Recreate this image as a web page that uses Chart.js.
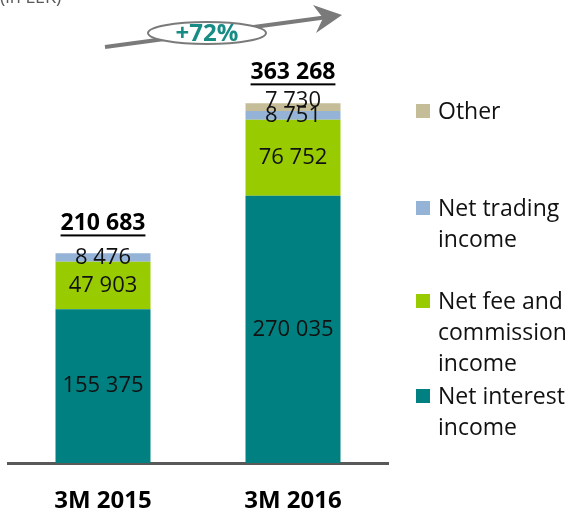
<!DOCTYPE html>
<html>
<head>
<meta charset="utf-8">
<script src="https://cdn.jsdelivr.net/npm/chart.js@4.4.1/dist/chart.umd.min.js"></script>
<style>
  body { margin: 0; background: #fff; }
  canvas { display: block; }
</style>
</head>
<body>
<canvas id="incomeChart" width="569" height="514"></canvas>
<script>
const categories = ["3M 2015", "3M 2016"];
const seriesNames = ["Net interest income", "Net fee and commission income", "Net trading income", "Other"];
const netInterest = [155375, 270035];
const netFee = [47903, 76752];
const netTrading = [8476, 8751];
const other = [null, 7730];
const totals = [210683, 363268];
const unitNote = "(in LEK)";

const colors = ["#008080", "#99cc00", "#95b3d7", "#c4bd97"];
const FONT = "'Open Sans', sans-serif";

function fmt(n) {
  return String(n).replace(/\B(?=(\d{3})+(?!\d))/g, " ");
}

function wrap(ctx, text, maxW) {
  const words = text.split(" ");
  let lines = [], cur = "";
  words.forEach(w => {
    const test = cur ? cur + " " + w : w;
    if (ctx.measureText(test).width > maxW && cur) {
      lines.push(cur);
      cur = w;
    } else {
      cur = test;
    }
  });
  lines.push(cur);
  return lines;
}

// labels inside the bars, totals, category names, legend, growth arrow
const extras = {
  id: "extras",
  afterDatasetsDraw(chart) {
    const ctx = chart.ctx;
    const y = chart.scales.y;
    const xs = chart.scales.x;
    ctx.save();

    // value labels
    ctx.font = "22px " + FONT;
    ctx.fillStyle = "#111";
    ctx.textAlign = "center";
    ctx.textBaseline = "middle";
    chart.data.datasets.forEach((ds, di) => {
      const meta = chart.getDatasetMeta(di);
      meta.data.forEach((bar, i) => {
        const v = ds.data[i];
        if (v == null) return;
        let cy = (bar.y + bar.base) / 2;
        if (di === 3) cy -= 6; // Other sits a bit high
        ctx.fillText(fmt(v), bar.x, cy);
      });
    });

    // category names under the axis
    ctx.font = "bold 24px " + FONT;
    ctx.fillStyle = "#000";
    categories.forEach((c, i) => {
      ctx.fillText(c, xs.getPixelForValue(i), chart.chartArea.bottom + 38);
    });

    // totals, bold and underlined
    ctx.font = "bold 23px " + FONT;
    totals.forEach((t, i) => {
      const px = xs.getPixelForValue(i);
      const top = y.getPixelForValue(t);
      const txt = fmt(t);
      ctx.fillText(txt, px, top - 31);
      const w = ctx.measureText(txt).width;
      ctx.fillRect(px - w / 2, top - 20, w, 2);
    });

    // legend
    const legendY = [396, 301, 208, 111];
    ctx.font = "23px " + FONT;
    ctx.textAlign = "left";
    seriesNames.forEach((name, i) => {
      ctx.fillStyle = colors[i];
      ctx.fillRect(416, legendY[i] - 7, 14, 14);
      ctx.fillStyle = "#111";
      wrap(ctx, name, 134).forEach((ln, k) => {
        ctx.fillText(ln, 438, legendY[i] + 1 + k * 31);
      });
    });

    // growth arrow with ellipse
    ctx.strokeStyle = "#7a7a7a";
    ctx.fillStyle = "#7a7a7a";
    ctx.lineWidth = 4;
    ctx.beginPath();
    ctx.moveTo(105, 47);
    ctx.lineTo(328, 17);
    ctx.stroke();
    ctx.beginPath();
    ctx.moveTo(342, 15);
    ctx.lineTo(313, 5);
    ctx.lineTo(323, 18);
    ctx.lineTo(316, 33);
    ctx.closePath();
    ctx.fill();

    ctx.beginPath();
    ctx.ellipse(207, 33, 59, 11, 0, 0, Math.PI * 2);
    ctx.fillStyle = "#fff";
    ctx.fill();
    ctx.lineWidth = 2;
    ctx.stroke();

    const growth = Math.round((totals[1] / totals[0] - 1) * 100);
    ctx.font = "bold 24px " + FONT;
    ctx.fillStyle = "#178c84";
    ctx.textAlign = "center";
    ctx.fillText("+" + growth + "%", 207, 34);

    // unit note, cut off at the top
    ctx.font = "18px " + FONT;
    ctx.fillStyle = "#595959";
    ctx.textAlign = "left";
    ctx.textBaseline = "alphabetic";
    ctx.fillText(unitNote, 0, 3);

    ctx.restore();
  }
};

new Chart(document.getElementById("incomeChart"), {
  type: "bar",
  data: {
    labels: categories,
    datasets: [netInterest, netFee, netTrading, other].map((d, i) => ({
      label: seriesNames[i],
      data: d,
      backgroundColor: colors[i],
      barPercentage: 0.5,
      categoryPercentage: 1.0
    }))
  },
  options: {
    responsive: false,
    animation: false,
    layout: { padding: { left: 8, right: 181, top: 67, bottom: 51 } },
    plugins: { legend: { display: false }, tooltip: { enabled: false } },
    scales: {
      x: {
        stacked: true,
        grid: { display: false, drawTicks: false },
        border: { display: true, color: "#595959", width: 3 },
        ticks: { display: false }
      },
      y: {
        stacked: true,
        display: false,
        min: 0,
        max: 400000
      }
    }
  },
  plugins: [extras]
});
</script>
</body>
</html>
